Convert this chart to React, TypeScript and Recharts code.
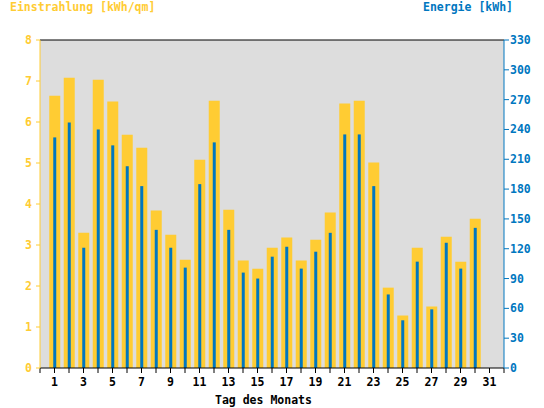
import React from 'react';
import { BarChart, Bar, XAxis, YAxis, CartesianGrid, ReferenceLine } from 'recharts';

const days = Array.from({ length: 31 }, (_, i) => i + 1);
const irradiation = [6.64, 7.08, 3.30, 7.03, 6.50, 5.69, 5.37, 3.84, 3.25, 2.64, 5.08, 6.52, 3.86, 2.62, 2.42, 2.93, 3.18, 2.62, 3.13, 3.79, 6.45, 6.52, 5.01, 1.96, 1.28, 2.93, 1.50, 3.20, 2.59, 3.64, null];
const energy = [232, 247, 121, 240, 224, 203, 183, 139, 121, 101, 185, 227, 139, 96, 90, 112, 122, 100, 117, 136, 235, 235, 183, 74, 48, 107, 59, 126, 100, 141, null];
const xTicks = Array.from({ length: 33 }, (_, i) => i);
const leftTicks = [0, 1, 2, 3, 4, 5, 6, 7, 8];
const rightTicks = [0, 30, 60, 90, 120, 150, 180, 210, 240, 270, 300, 330];

const YELLOW = '#ffcc33';
const BLUE = '#0077c0';
const FONT = '"DejaVu Sans Mono", monospace';

const data = days.map((d, i) => ({ day: d, irr: irradiation[i], energy: energy[i] }));

const makeTick = (fill: string, anchor: 'start' | 'middle' | 'end', dy: number, fmt?: (v: number) => string) =>
  (props: any) => {
    const { x, y, payload } = props;
    const v = payload?.value as number;
    const label = fmt ? fmt(v) : String(v);
    return (
      <text
        x={x}
        y={y}
        dy={dy}
        textAnchor={anchor}
        fill={fill}
        fontFamily={FONT}
        fontSize={11.5}
        fontWeight="bold"
      >
        {label}
      </text>
    );
  };

export default function App() {
  return (
    <div style={{ position: 'absolute', left: 0, top: 0, width: 544, height: 408, background: '#fff' }}>
      <BarChart width={544} height={408} data={data} margin={{ top: 40, right: 0, bottom: 0, left: 0 }}>
        <CartesianGrid horizontal={false} vertical={false} fill="#dddddd" xAxisId="a" yAxisId="l" />
        <XAxis
          xAxisId="a"
          dataKey="day"
          type="number"
          domain={[0, 32]}
          ticks={xTicks}
          interval={0}
          height={40}
          stroke="#000"
          tickSize={5}
          tickMargin={5}
          tick={makeTick('#000', 'middle', 8, (v) => (v % 2 === 1 ? String(v) : ''))}
        />
        <XAxis xAxisId="b" dataKey="day" type="number" domain={[0, 32]} hide />
        <YAxis
          yAxisId="l"
          orientation="left"
          width={40}
          domain={[0, 8]}
          ticks={leftTicks}
          interval={0}
          stroke={YELLOW}
          tickSize={4}
          tickMargin={4}
          tick={makeTick(YELLOW, 'end', 4)}
        />
        <YAxis
          yAxisId="r"
          orientation="right"
          width={40}
          domain={[0, 330]}
          ticks={rightTicks}
          interval={0}
          stroke={BLUE}
          tickSize={5}
          tickMargin={1}
          tick={makeTick(BLUE, 'start', 4)}
        />
        <ReferenceLine y={8} xAxisId="a" yAxisId="l" stroke="#000" strokeWidth={1} />
        <Bar dataKey="irr" xAxisId="a" yAxisId="l" fill={YELLOW} barSize={11} isAnimationActive={false} />
        <Bar dataKey="energy" xAxisId="b" yAxisId="r" fill={BLUE} barSize={3} isAnimationActive={false} />
      </BarChart>
      <svg width={544} height={408} style={{ position: 'absolute', left: 0, top: 0, pointerEvents: 'none' }}>
        <text x={10} y={11} fill={YELLOW} style={{ fontFamily: FONT, fontSize: 11.5, fontWeight: 'bold' }}>
          Einstrahlung [kWh/qm]
        </text>
        <text x={423} y={11} fill={BLUE} style={{ fontFamily: FONT, fontSize: 11.5, fontWeight: 'bold' }}>
          Energie [kWh]
        </text>
        <text x={215} y={404} fill="#000" style={{ fontFamily: FONT, fontSize: 11.5, fontWeight: 'bold' }}>
          Tag des Monats
        </text>
      </svg>
    </div>
  );
}
